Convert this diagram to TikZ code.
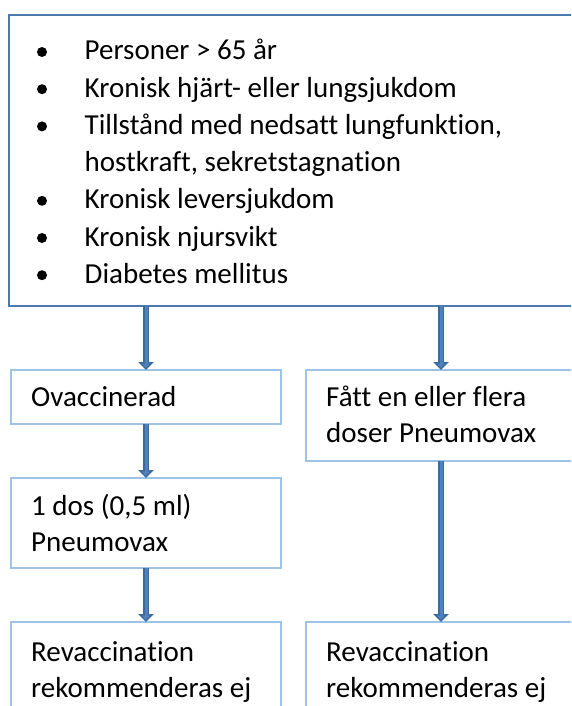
\documentclass[tikz,border=0pt]{standalone}
\usepackage{fontspec}
\setmainfont{Carlito}[RawFeature=-liga]
\usetikzlibrary{arrows.meta}
\definecolor{topline}{HTML}{4A7AAE}
\definecolor{boxline}{HTML}{9DC3E6}
\definecolor{arrfill}{HTML}{4F81BD}
\definecolor{arrline}{HTML}{3B6A9E}
\tikzset{
  topbox/.style={draw=topline, line width=2pt, anchor=north west, inner sep=0pt, outer sep=0pt},
  lowbox/.style={draw=boxline, line width=1.5pt, anchor=north west, inner sep=0pt, outer sep=0pt, minimum width=270pt},
  txt/.style={anchor=base west, inner sep=0pt, font=\fontsize{29}{36}\selectfont},
  dot/.style={circle, fill=black, inner sep=0pt, minimum size=10pt},
  arrout/.style={draw=arrline, line width=6pt, -{Triangle[width=15pt,length=8pt]}},
  arrin/.style={draw=arrfill, line width=3pt, -{Triangle[width=8pt,length=4.3pt]}, shorten >=2.2pt},
}
\begin{document}
\begin{tikzpicture}[x=1pt,y=-1pt]
\useasboundingbox (0,0) rectangle (571,706);
\clip (0,0) rectangle (571,706);
\fill[white] (0,0) rectangle (571,706);
% boxes
\node[topbox, minimum width=576pt, minimum height=291pt] (top) at (9,15) {};
\node[lowbox, minimum height=54pt] (ova) at (11,370) {};
\node[lowbox, minimum height=90pt] (dos) at (11,478) {};
\node[lowbox, minimum height=100pt] (rev1) at (11,622) {};
\node[lowbox, minimum height=91pt] (fatt) at (306,370) {};
\node[lowbox, minimum height=100pt] (rev2) at (306,622) {};
% list in top box
\node[dot] (b1) at (42,52) {};
\node[txt] (t1) at (84.5,60) {Personer > 65 år};
\node[dot] (b2) at (42,89.2) {};
\node[txt] (t2) at (84.5,97.2) {Kronisk hjärt- eller lungsjukdom};
\node[dot] (b3) at (42,126.4) {};
\node[txt] (t3) at (84.5,134.4) {Tillstånd med nedsatt lungfunktion,};
\node[txt] (t4) at (84.5,171.6) {hostkraft, sekretstagnation};
\node[dot] (b5) at (42,200.8) {};
\node[txt] (t5) at (84.5,208.8) {Kronisk leversjukdom};
\node[dot] (b6) at (42,238) {};
\node[txt] (t6) at (84.5,246) {Kronisk njursvikt};
\node[dot] (b7) at (42,275.2) {};
\node[txt] (t7) at (84.5,283.2) {Diabetes mellitus};
% lower texts
\node[txt] (ovat) at (31,406.7) {Ovaccinerad};
\node[txt] (dost1) at (31,515) {1 dos (0,5 ml)};
\node[txt] (dost2) at (31,551) {Pneumovax};
\node[txt] (rev1t1) at (31,661) {Revaccination};
\node[txt] (rev1t2) at (31,697) {rekommenderas ej};
\node[txt] (fattt1) at (326,406.7) {Fått en eller flera};
\node[txt] (fattt2) at (326,442) {doser Pneumovax};
\node[txt] (rev2t1) at (326,661) {Revaccination};
\node[txt] (rev2t2) at (326,697) {rekommenderas ej};
% arrow start points on the top box
\coordinate (s1) at (top.south -| ova.north);
\coordinate (s2) at (top.south -| fatt.north);
% arrows
\foreach \s/\e in {s1/ova.north, ova.south/dos.north, dos.south/rev1.north, s2/fatt.north, fatt.south/rev2.north}{
  \draw[arrout] (\s) -- (\e);
  \draw[arrin] (\s) -- (\e);
}
\end{tikzpicture}
\end{document}
